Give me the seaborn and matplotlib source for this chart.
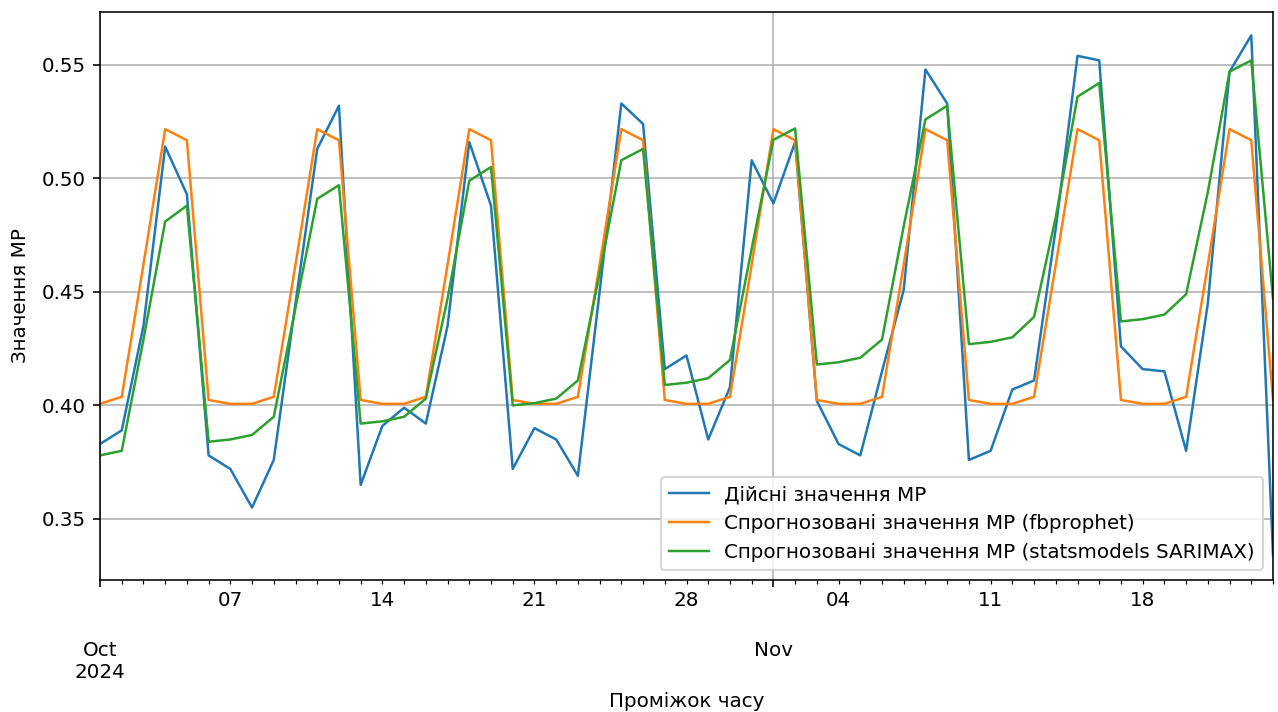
import matplotlib
matplotlib.use("Agg")
import matplotlib.pyplot as plt
import matplotlib.dates as mdates
from matplotlib.ticker import FuncFormatter
import pandas as pd
import seaborn as sns

# Daily observations, 1 Oct – 24 Nov 2024
dates = pd.date_range("2024-10-01", "2024-11-24", freq="D")

actual = [
    0.383, 0.389, 0.435, 0.514, 0.493, 0.378, 0.372,
    0.355, 0.376, 0.445, 0.513, 0.532, 0.365, 0.391,
    0.399, 0.392, 0.435, 0.516, 0.488, 0.372, 0.390,
    0.385, 0.369, 0.450, 0.533, 0.524, 0.416, 0.422,
    0.385, 0.408, 0.508, 0.489, 0.516, 0.402, 0.383,
    0.378, 0.415, 0.451, 0.548, 0.533, 0.376, 0.380,
    0.407, 0.411, 0.478, 0.554, 0.552, 0.426, 0.416,
    0.415, 0.380, 0.445, 0.547, 0.563, 0.334,
]

prophet = [
    0.4007, 0.4038, 0.462, 0.5217, 0.5168, 0.4024, 0.4007,
    0.4007, 0.4038, 0.462, 0.5217, 0.5168, 0.4024, 0.4007,
    0.4007, 0.4038, 0.462, 0.5217, 0.5168, 0.4024, 0.4007,
    0.4007, 0.4038, 0.462, 0.5217, 0.5168, 0.4024, 0.4007,
    0.4007, 0.4038, 0.462, 0.5217, 0.5168, 0.4024, 0.4007,
    0.4007, 0.4038, 0.462, 0.5217, 0.5168, 0.4024, 0.4007,
    0.4007, 0.4038, 0.462, 0.5217, 0.5168, 0.4024, 0.4007,
    0.4007, 0.4038, 0.462, 0.5217, 0.5168, 0.4024,
]

sarimax = [
    0.378, 0.380, 0.429, 0.481, 0.488, 0.384, 0.385,
    0.387, 0.395, 0.443, 0.491, 0.497, 0.392, 0.393,
    0.395, 0.403, 0.447, 0.499, 0.505, 0.400, 0.401,
    0.403, 0.411, 0.458, 0.508, 0.513, 0.409, 0.410,
    0.412, 0.420, 0.469, 0.517, 0.522, 0.418, 0.419,
    0.421, 0.429, 0.479, 0.526, 0.532, 0.427, 0.428,
    0.430, 0.439, 0.483, 0.536, 0.542, 0.437, 0.438,
    0.440, 0.449, 0.494, 0.547, 0.552, 0.447,
]

series_labels = [
    "Дійсні значення МР",
    "Спрогнозовані значення МР (fbprophet)",
    "Спрогнозовані значення МР (statsmodels SARIMAX)",
]
series_colors = ["#1f77b4", "#ff7f0e", "#2ca02c"]

df = pd.DataFrame({"date": dates, "actual": actual,
                   "prophet": prophet, "sarimax": sarimax})

DPI = 143
fig = plt.figure(figsize=(1278 / DPI, 712 / DPI), dpi=DPI)
ax = fig.add_axes([100 / 1278, 1 - 580 / 712, 1173 / 1278, 568 / 712])

for col, lab, colr in zip(["actual", "prophet", "sarimax"], series_labels, series_colors):
    sns.lineplot(data=df, x="date", y=col, ax=ax, label=lab, color=colr, linewidth=1.25)

ax.set_xlim(dates[0], dates[-1])
ax.set_ylim(0.3231, 0.5733)

# Month ticks as major, days as minor with Monday labels
ax.xaxis.set_major_locator(mdates.MonthLocator())
ax.xaxis.set_minor_locator(mdates.DayLocator())


def major_fmt(x, pos):
    d = mdates.num2date(x)
    if pos == 0:
        return d.strftime("\n\n%b\n%Y")
    return d.strftime("\n\n%b")


def minor_fmt(x, pos):
    d = mdates.num2date(x)
    if d.weekday() == 0 and d.day != 1:
        return d.strftime("%d")
    return ""


ax.xaxis.set_major_formatter(FuncFormatter(major_fmt))
ax.xaxis.set_minor_formatter(FuncFormatter(minor_fmt))
ax.tick_params(axis="x", which="major", pad=5)
for lbl in ax.get_xticklabels(which="major"):
    lbl.set_multialignment("center")

ax.grid(True, which="major")
ax.set_xlabel("Проміжок часу", labelpad=5)
ax.set_ylabel("Значення МР", labelpad=6)
ax.legend(loc="lower right")

fig.savefig("out.png", dpi=DPI)
